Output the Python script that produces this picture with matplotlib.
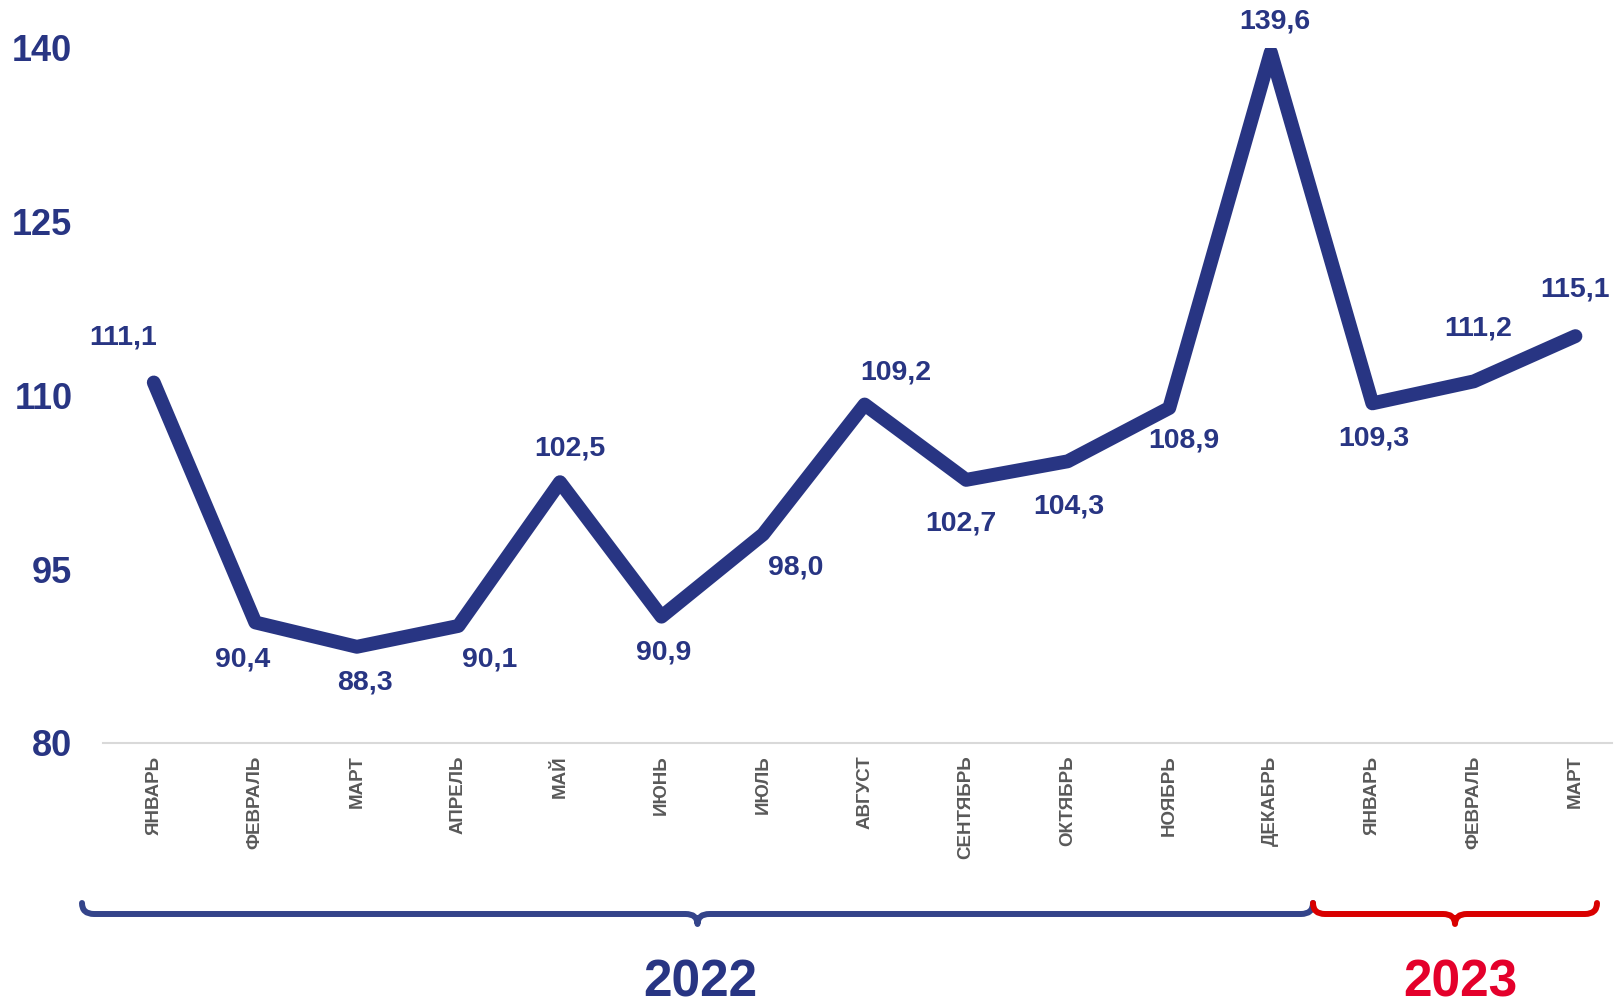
import matplotlib.pyplot as plt
from matplotlib.path import Path
from matplotlib.patches import PathPatch

plt.rcParams['font.family'] = ['Liberation Sans', 'DejaVu Sans']

# data
months = ['ЯНВАРЬ', 'ФЕВРАЛЬ', 'МАРТ', 'АПРЕЛЬ', 'МАЙ', 'ИЮНЬ', 'ИЮЛЬ', 'АВГУСТ',
          'СЕНТЯБРЬ', 'ОКТЯБРЬ', 'НОЯБРЬ', 'ДЕКАБРЬ', 'ЯНВАРЬ', 'ФЕВРАЛЬ', 'МАРТ']
values = [111.1, 90.4, 88.3, 90.1, 102.5, 90.9, 98.0, 109.2,
          102.7, 104.3, 108.9, 139.6, 109.3, 111.2, 115.1]
y_ticks = [80, 95, 110, 125, 140]
years = ['2022', '2023']

NAVY = '#283583'
RED = '#E4002B'
W, H = 1615, 1006

# label offsets in pixels (dx right, dy down)
label_offsets = [(-31, -45), (-13, 37), (8, 36), (31, 34), (10, -34), (2, 36),
                 (33, 33), (31, -32), (-5, 44), (1, 45), (15, 32), (4, -31),
                 (1, 35), (4, -53), (0, -47)]

fig = plt.figure(figsize=(W / 100, H / 100), dpi=100)
ax = fig.add_axes([103 / W, 1 - 743 / H, (1612 - 103) / W, (743 - 47.5) / H])

x = list(range(len(values)))
ax.plot(x, values, color=NAVY, lw=10, solid_capstyle='round', solid_joinstyle='round')

for xi, v, (dx, dy) in zip(x, values, label_offsets):
    ax.annotate(f'{v:.1f}'.replace('.', ','), (xi, v), xytext=(dx, -dy),
                textcoords='offset pixels', ha='center', va='center',
                fontsize=20.5, fontweight='bold', color=NAVY)

ax.set_xlim(-0.5, 14.36)
ax.set_ylim(80, 140)
ax.set_yticks(y_ticks)
ax.set_yticklabels([str(t) for t in y_ticks], fontsize=26, fontweight='bold', color=NAVY)
ax.set_xticks(x)
ax.set_xticklabels(months, rotation=90, fontsize=13.5, fontweight='bold', color='#595959')
ax.tick_params(axis='y', length=0, pad=22)
ax.tick_params(axis='x', length=0, pad=9)
for s in ['top', 'right', 'left']:
    ax.spines[s].set_visible(False)
ax.spines['bottom'].set_color('#D9D9D9')
ax.spines['bottom'].set_linewidth(1.5)


def brace(x0, x1, color, ytop=903, yline=914, ytip=924, r=12):
    xm = (x0 + x1) / 2
    pts = [(x0, ytop), (x0, yline), (x0 + r, yline),
           (xm - r, yline), (xm, yline), (xm, ytip),
           (xm, yline), (xm + r, yline),
           (x1 - r, yline), (x1, yline), (x1, ytop)]
    codes = [Path.MOVETO, Path.CURVE3, Path.CURVE3,
             Path.LINETO, Path.CURVE3, Path.CURVE3,
             Path.CURVE3, Path.CURVE3,
             Path.LINETO, Path.CURVE3, Path.CURVE3]
    pts = [(px / W, 1 - py / H) for px, py in pts]
    fig.patches.append(PathPatch(Path(pts, codes), transform=fig.transFigure,
                                 fill=False, edgecolor=color, lw=4.3,
                                 capstyle='round', joinstyle='round'))


brace(82, 1313, '#34448A')
brace(1313, 1597, '#D90000')

fig.text(700 / W, 1 - 983 / H, years[0], ha='center', va='center',
         fontsize=37, fontweight='bold', color=NAVY)
fig.text(1460 / W, 1 - 983 / H, years[1], ha='center', va='center',
         fontsize=37, fontweight='bold', color=RED)

fig.savefig('out.png', dpi=100)
